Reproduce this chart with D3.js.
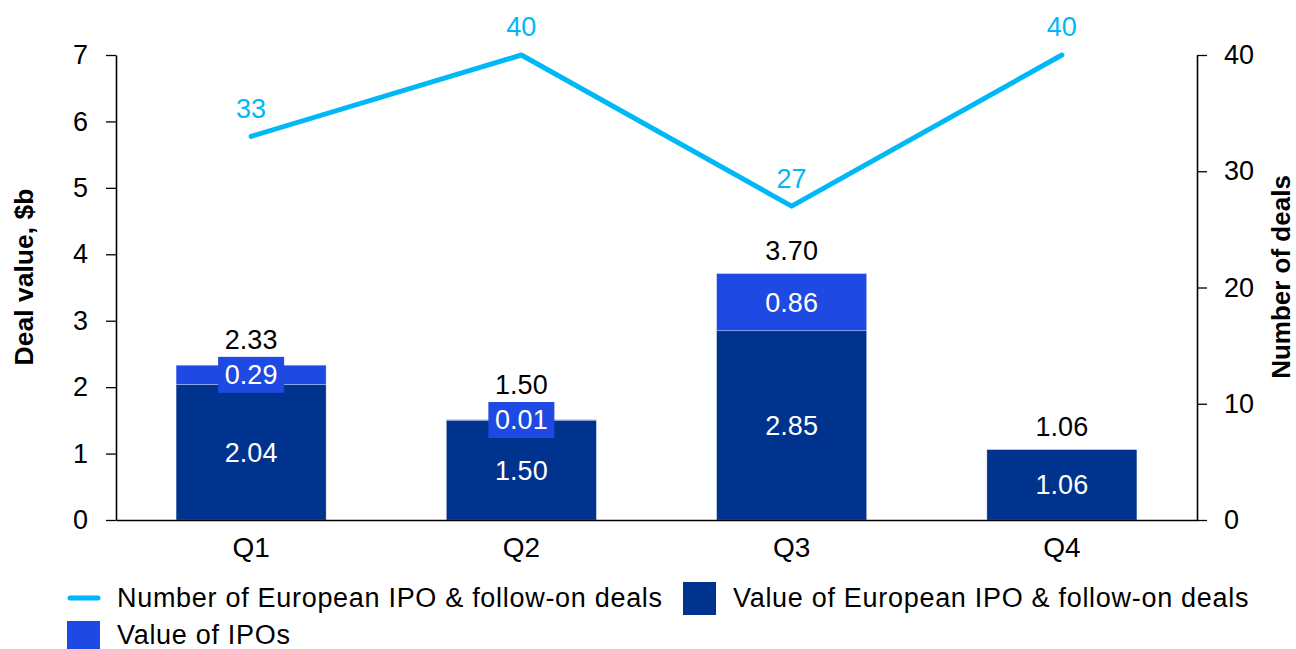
<!DOCTYPE html>
<html>
<head>
<meta charset="utf-8">
<script src="https://cdn.jsdelivr.net/npm/d3@7"></script>
<style>
  body { margin: 0; background: #fff; }
  text { font-family: Arial, "Liberation Sans", sans-serif; }
</style>
</head>
<body>
<div class="chart"></div>
<script>
var quarters = ["Q1", "Q2", "Q3", "Q4"];
var baseValues = [2.04, 1.50, 2.85, 1.06];   // value of European IPO & follow-on deals
var ipoValues = [0.29, 0.01, 0.86, 0];       // value of IPOs
var totalValues = [2.33, 1.50, 3.70, 1.06];
var dealCounts = [33, 40, 27, 40];
var leftTicks = [0, 1, 2, 3, 4, 5, 6, 7];
var rightTicks = [0, 10, 20, 30, 40];

var W = 1296, H = 649,
    margin = {top: 55, right: 99, bottom: 129, left: 116},
    width = W - margin.left - margin.right,
    height = H - margin.top - margin.bottom;

var darkBlue = "#00338D", ipoBlue = "#1E49E2", lineBlue = "#00B8F5";
var fontSize = "27px";

var svg = d3.select(".chart")
  .append("svg")
    .attr("width", W)
    .attr("height", H)
  .append("g")
    .attr("transform", "translate(" + margin.left + "," + margin.top + ")");

var x = d3.scaleBand()
    .domain(quarters)
    .range([0, width])
    .paddingInner(0.445)
    .paddingOuter(0.2225);

var y = d3.scaleLinear().domain([0, 7]).range([height, 0]);
var y2 = d3.scaleLinear().domain([0, 40]).range([height, 0]);

var data = quarters.map(function(q, i) {
    return {q: q, base: baseValues[i], ipo: ipoValues[i], total: totalValues[i], deals: dealCounts[i]};
});

// bars
var bars = svg.append("g");
bars.selectAll(".base")
    .data(data)
    .enter().append("rect")
      .attr("x", function(d) { return x(d.q); })
      .attr("y", function(d) { return y(d.base); })
      .attr("width", x.bandwidth())
      .attr("height", function(d) { return y(0) - y(d.base); })
      .attr("fill", darkBlue)
      .attr("stroke", "#ffffff")
      .attr("stroke-opacity", 0.35)
      .attr("stroke-width", 0.8);

bars.selectAll(".ipo")
    .data(data.filter(function(d) { return d.ipo > 0; }))
    .enter().append("rect")
      .attr("x", function(d) { return x(d.q); })
      .attr("y", function(d) { return y(d.base + d.ipo); })
      .attr("width", x.bandwidth())
      .attr("height", function(d) { return y(d.base) - y(d.base + d.ipo); })
      .attr("fill", ipoBlue)
      .attr("stroke", "#ffffff")
      .attr("stroke-opacity", 0.35)
      .attr("stroke-width", 0.8);

// axes
svg.append("g")
    .attr("class", "y axis")
    .call(d3.axisLeft(y).tickValues(leftTicks).tickFormat(d3.format("d"))
        .tickSize(10).tickPadding(18).tickSizeOuter(0));

svg.append("g")
    .attr("class", "y2 axis")
    .attr("transform", "translate(" + width + ",0)")
    .call(d3.axisRight(y2).tickValues(rightTicks).tickSize(10).tickPadding(17).tickSizeOuter(0));

svg.append("g")
    .attr("class", "x axis")
    .attr("transform", "translate(0," + height + ")")
    .call(d3.axisBottom(x).tickSize(0).tickPadding(17));

svg.selectAll(".axis .domain").attr("stroke", "#000").attr("stroke-width", 1.6);
svg.selectAll(".axis .tick line").attr("stroke", "#000").attr("stroke-width", 1.3);
svg.selectAll(".axis text")
    .attr("font-family", "Arial, 'Liberation Sans', sans-serif")
    .attr("font-size", fontSize)
    .attr("fill", "#000");
svg.select(".x.axis").selectAll("text").attr("dy", "0.71em").attr("font-size", "28px");

// axis titles
svg.append("text")
    .attr("transform", "translate(" + (24 - margin.left) + ",222) rotate(-90)")
    .attr("text-anchor", "middle")
    .attr("dominant-baseline", "central")
    .attr("font-weight", "bold")
    .attr("font-size", "26.5px")
    .text("Deal value, $b");

svg.append("text")
    .attr("transform", "translate(" + (1281 - margin.left) + ",222) rotate(-90)")
    .attr("text-anchor", "middle")
    .attr("dominant-baseline", "central")
    .attr("font-weight", "bold")
    .attr("font-size", "26px")
    .text("Number of deals");

// labels inside bars
var labels = svg.append("g")
    .attr("font-size", fontSize)
    .attr("text-anchor", "middle");

labels.selectAll(".base-label")
    .data(data)
    .enter().append("text")
      .attr("x", function(d) { return x(d.q) + x.bandwidth() / 2; })
      .attr("y", function(d) { return y(d.base / 2); })
      .attr("dy", "0.35em")
      .attr("fill", "#fff")
      .text(function(d) { return d3.format(".2f")(d.base); });

var ipoLab = labels.selectAll(".ipo-label")
    .data(data.filter(function(d) { return d.ipo > 0; }))
    .enter().append("g")
      .attr("transform", function(d) {
          return "translate(" + (x(d.q) + x.bandwidth() / 2) + "," + y(d.base + d.ipo / 2) + ")";
      });

ipoLab.append("rect")
    .attr("x", -33).attr("y", -18)
    .attr("width", 66).attr("height", 36)
    .attr("fill", ipoBlue);

ipoLab.append("text")
    .attr("dy", "0.35em")
    .attr("fill", "#fff")
    .text(function(d) { return d3.format(".2f")(d.ipo); });

// totals above the stack, lifted clear of the IPO label box
labels.selectAll(".total-label")
    .data(data)
    .enter().append("text")
      .attr("x", function(d) { return x(d.q) + x.bandwidth() / 2; })
      .attr("y", function(d) {
          var top = y(d.base + d.ipo) - 23;
          if (d.ipo > 0) top = Math.min(top, y(d.base + d.ipo / 2) - 18 - 17);
          return top;
      })
      .attr("dy", "0.35em")
      .attr("fill", "#000")
      .text(function(d) { return d3.format(".2f")(d.total); });

// line of deal counts
var line = d3.line()
    .x(function(d) { return x(d.q) + x.bandwidth() / 2; })
    .y(function(d) { return y2(d.deals); });

svg.append("path")
    .datum(data)
    .attr("fill", "none")
    .attr("stroke", lineBlue)
    .attr("stroke-width", 5)
    .attr("stroke-linejoin", "round")
    .attr("stroke-linecap", "round")
    .attr("d", line);

svg.append("g")
    .selectAll("text")
    .data(data)
    .enter().append("text")
      .attr("x", function(d) { return x(d.q) + x.bandwidth() / 2; })
      .attr("y", function(d) { return y2(d.deals) - 28; })
      .attr("dy", "0.35em")
      .attr("text-anchor", "middle")
      .attr("font-size", fontSize)
      .attr("fill", lineBlue)
      .text(function(d) { return d.deals; });

// legend
var legend = d3.select("svg").append("g")
    .attr("font-size", "27px")
    .attr("letter-spacing", "0.7px");

legend.append("line")
    .attr("x1", 70).attr("x2", 98)
    .attr("y1", 598).attr("y2", 598)
    .attr("stroke", lineBlue)
    .attr("stroke-width", 5)
    .attr("stroke-linecap", "round");
legend.append("text")
    .attr("x", 117).attr("y", 598).attr("dy", "0.35em")
    .text("Number of European IPO & follow-on deals");

legend.append("rect")
    .attr("x", 683).attr("y", 582).attr("width", 33).attr("height", 33)
    .attr("fill", darkBlue);
legend.append("text")
    .attr("x", 733).attr("y", 598).attr("dy", "0.35em")
    .text("Value of European IPO & follow-on deals");

legend.append("rect")
    .attr("x", 67).attr("y", 621).attr("width", 33).attr("height", 33)
    .attr("fill", ipoBlue);
legend.append("text")
    .attr("x", 117).attr("y", 635).attr("dy", "0.35em")
    .text("Value of IPOs");
</script>
</body>
</html>
